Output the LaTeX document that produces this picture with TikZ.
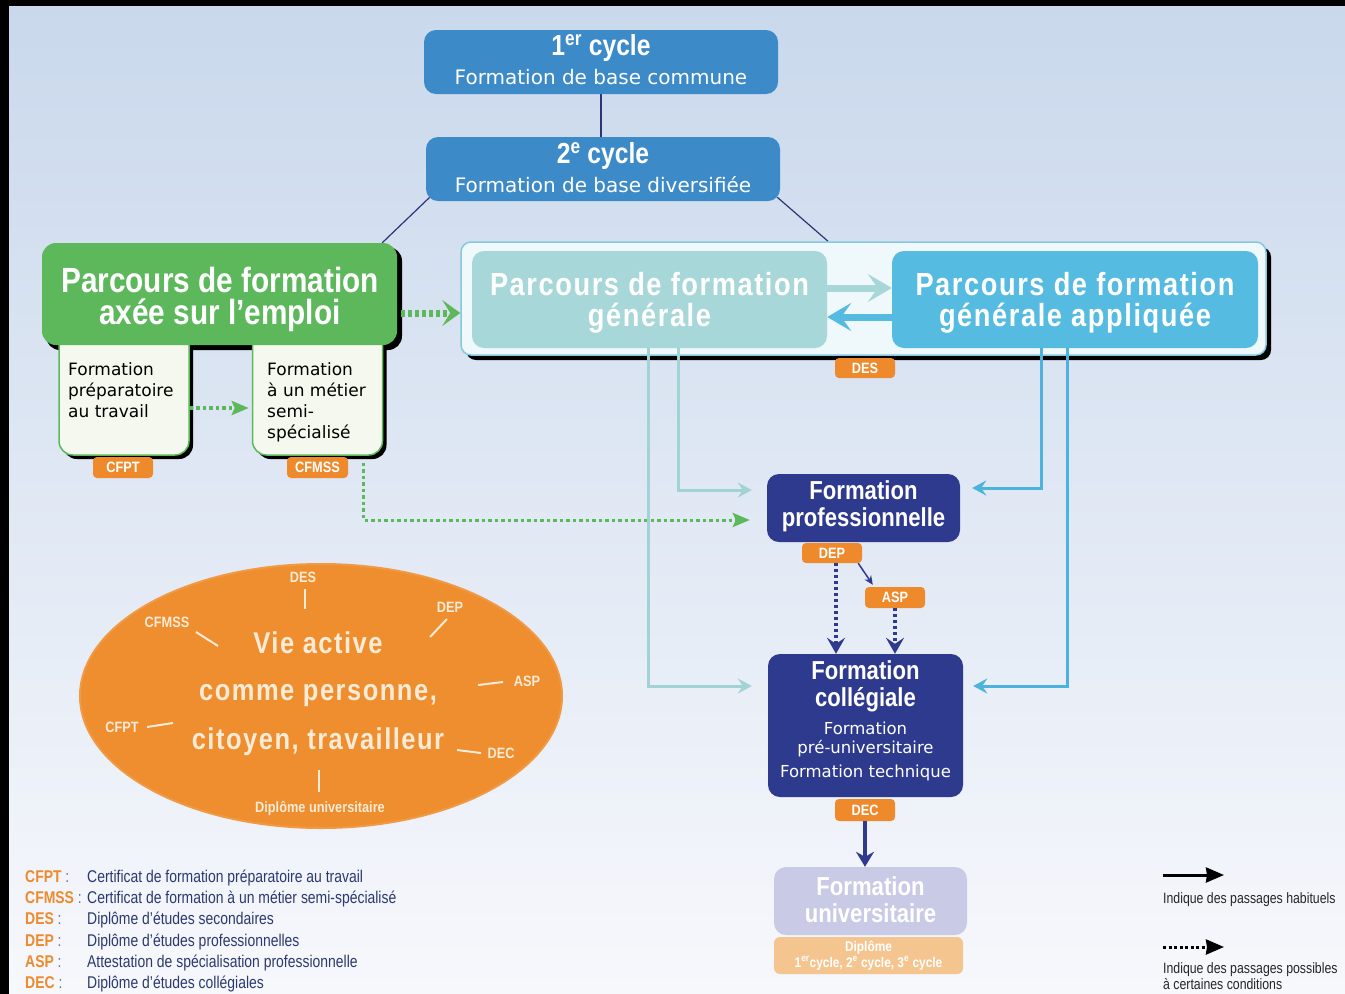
\documentclass[tikz,border=0pt]{standalone}
\usepackage{fontspec}
\setmainfont{DejaVu Sans}
\newfontfamily\cond[FakeStretch=0.85]{Liberation Sans}
\newfontfamily\condsp[FakeStretch=0.85,LetterSpace=5]{Liberation Sans}
\newfontfamily\legf[FakeStretch=0.82]{Liberation Sans}
\newfontfamily\dv{DejaVu Sans}
\usetikzlibrary{arrows.meta,shapes.geometric,backgrounds}
\newcommand\myfs[2]{\fontsize{#1pt}{#2pt}\selectfont}
\definecolor{bgtop}{HTML}{C9D8EC}
\definecolor{bgbot}{HTML}{F7F8FC}
\definecolor{cycblue}{HTML}{3D8AC8}
\definecolor{navyline}{HTML}{2D3578}
\definecolor{grn}{HTML}{5CB85B}
\definecolor{subfill}{HTML}{F5F8EE}
\definecolor{genc}{HTML}{A8D7D9}
\definecolor{genline}{HTML}{9FD3D6}
\definecolor{appc}{HTML}{55BBE0}
\definecolor{appline}{HTML}{4DB3DC}
\definecolor{panfill}{HTML}{EFF8FB}
\definecolor{panedge}{HTML}{86C8E0}
\definecolor{navy}{HTML}{2E3A8E}
\definecolor{orng}{HTML}{EE8A2C}
\definecolor{unic}{HTML}{C9CBE6}
\definecolor{diplc}{HTML}{F5C590}
\definecolor{cream}{HTML}{FCEBD6}
\definecolor{legtxt}{HTML}{2B3A6E}
\definecolor{colon}{HTML}{6A7090}
\definecolor{ellc}{HTML}{EE8E2E}
\definecolor{ellrim}{HTML}{F09A45}
\begin{document}
\begin{tikzpicture}[x=1pt,y=-1pt,
  cyc/.style={fill=cycblue, rounded corners=12pt, minimum width=354pt, minimum height=64pt, inner sep=0pt},
  cyct/.style={text=white, inner sep=0pt, anchor=base, font={\cond\bfseries\myfs{29}{31}}},
  cycs/.style={text=white, inner sep=0pt, anchor=base, font={\dv\myfs{20}{22}}},
  nline/.style={draw=navyline, line width=1.2pt},
  subbox/.style={fill=subfill, draw=grn, line width=1.5pt, rounded corners=14pt, minimum width=130pt, minimum height=135pt, inner sep=0pt, preaction={fill=black, transform canvas={xshift=4pt,yshift=-4pt}}},
  greenbox/.style={fill=grn, rounded corners=14pt, minimum width=355pt, minimum height=102pt, inner sep=0pt},
  greent/.style={text=white, inner sep=0pt, anchor=base, font={\cond\bfseries\myfs{35}{38}}},
  subt/.style={text=black, inner sep=0pt, anchor=base west, align=left, font={\dv\myfs{17}{21}}},
  tag/.style={fill=orng, rounded corners=4pt, minimum width=60pt, minimum height=21pt, inner sep=0pt, text=white, font={\cond\bfseries\myfs{15}{16}}},
  panel/.style={fill=panfill, draw=panedge, line width=1.5pt, rounded corners=10pt, minimum width=805pt, minimum height=113pt, inner sep=0pt, preaction={fill=black, transform canvas={xshift=5pt,yshift=-5pt}}},
  genbox/.style={fill=genc, rounded corners=12pt, minimum width=355pt, minimum height=97pt, inner sep=0pt},
  appbox/.style={fill=appc, rounded corners=12pt, minimum width=366pt, minimum height=97pt, inner sep=0pt},
  bigt/.style={text=white, inner sep=0pt, anchor=base, font={\condsp\bfseries\myfs{32}{34}}},
  navybox/.style={fill=navy, rounded corners=12pt, inner sep=0pt},
  navyt/.style={text=white, inner sep=0pt, anchor=base, font={\cond\bfseries\myfs{26}{28}}},
  colt/.style={text=white, inner sep=0pt, anchor=base, font={\dv\myfs{16.5}{18}}},
  unibox/.style={fill=unic, rounded corners=12pt, minimum width=193pt, minimum height=68pt, inner sep=0pt},
  diplbox/.style={fill=diplc, rounded corners=6pt, minimum width=189pt, minimum height=37pt, inner sep=0pt},
  diplt/.style={text=white, inner sep=0pt, anchor=base, font={\cond\bfseries\myfs{14}{15}}},
  ellt/.style={text=cream, inner sep=0pt, anchor=base, font={\condsp\bfseries\myfs{30}{32}}},
  elll/.style={text=cream, inner sep=0pt, anchor=base, font={\cond\bfseries\myfs{15}{16}}},
  tick/.style={draw=cream, line width=2pt},
  abbr/.style={text=orng, inner sep=0pt, anchor=base west, font={\legf\bfseries\myfs{17}{18}}},
  desc/.style={text=legtxt, inner sep=0pt, anchor=base west, font={\legf\myfs{17}{18}}},
  rleg/.style={text=black!85, inner sep=0pt, anchor=base west, align=left, font={\legf\myfs{15}{14}}},
  gdot/.style={draw=grn, line width=3.5pt, dash pattern=on 3.5pt off 3pt, -{Stealth[length=17pt,width=14pt,inset=3pt]}},
  gline/.style={draw=genline, line width=3pt, -{Stealth[length=14pt,width=15pt,inset=5pt]}},
  aline/.style={draw=appline, line width=3pt, -{Stealth[length=14pt,width=15pt,inset=5pt]}},
  ndot/.style={draw=navy, line width=4pt, dash pattern=on 3pt off 3pt, -{Stealth[length=16pt,width=18pt,inset=6pt]}},
]
\useasboundingbox (0,0) rectangle (1345,994);

% cycles
\node[cyc] (c1) at (601,62) {};
\node[cyct] (c1t) at (601,55) {1\textsuperscript{er} cycle};
\node[cycs] (c1s) at (601,84) {Formation de base commune};
\node[cyc] (c2) at (603,169) {};
\node[cyct] (c2t) at (603,163) {2\textsuperscript{e} cycle};
\node[cycs] (c2s) at (603,192) {Formation de base diversifiée};

% employment pathway
\fill[black, rounded corners=14pt] (46,247) rectangle (402,350);
\node[subbox] (sub1) at (124,387.5) {};
\node[subbox] (sub2) at (317.5,387.5) {};
\node[greenbox] (green) at (219.5,294) {};
\node[greent] (gt1) at (220,292) {Parcours de formation};
\node[greent] (gt2) at (220,324) {axée sur l’emploi};
\node[subt] (s1t) at (68,417) {Formation\\préparatoire\\au travail};
\node[subt] (s2t) at (267,438) {Formation\\à un métier\\semi-\\spécialisé};
\node[tag] (cfpt) at (123,467.5) {CFPT};
\node[tag, minimum width=61pt] (cfmss) at (317.5,467.5) {CFMSS};

% general pathways panel
\node[panel] (panel) at (863.5,298.5) {};
\node[genbox] (gen) at (649.5,299.5) {};
\node[appbox] (app) at (1075,299.5) {};
\node[bigt] (gen1) at (649.5,295) {Parcours de formation};
\node[bigt] (gen2) at (649.5,326) {générale};
\node[bigt] (app1) at (1075,295) {Parcours de formation};
\node[bigt] (app2) at (1075,326) {générale appliquée};
\node[tag, minimum height=20pt] (des) at (865,368) {DES};
\draw[draw=genc, line width=7pt, -{Stealth[length=24pt,width=28pt,inset=10pt]}] ([yshift=11.5pt]gen.east) -- ([yshift=11.5pt]app.west);
\draw[draw=appc, line width=7pt, -{Stealth[length=24pt,width=28pt,inset=10pt]}] ([yshift=-17.5pt]app.west) -- ([yshift=-17.5pt]gen.east);

% professional / college
\node[navybox, minimum width=193pt, minimum height=68pt] (prof) at (863.5,508) {};
\node[navyt] (pt1) at (863.5,499) {Formation};
\node[navyt] (pt2) at (863.5,526) {professionnelle};
\node[tag, minimum height=20pt] (dep) at (832,553) {DEP};
\node[tag] (asp) at (895,597.5) {ASP};
\node[navybox, minimum width=195pt, minimum height=143pt] (col) at (865.5,725.5) {};
\node[navyt] (ct1) at (865.5,679) {Formation};
\node[navyt] (ct2) at (865.5,706) {collégiale};
\node[colt] (ct3) at (865.5,734) {Formation};
\node[colt] (ct4) at (865.5,753) {pré-universitaire};
\node[colt] (ct5) at (865.5,777) {Formation technique};
\node[tag, minimum height=22pt] (dec) at (865,810) {DEC};

% university
\node[unibox] (univ) at (870.5,901) {};
\node[navyt] (ut1) at (870.5,895) {Formation};
\node[navyt] (ut2) at (870.5,922) {universitaire};
\node[diplbox] (dipl) at (868.5,955.5) {};
\node[diplt] (dt1) at (868.5,951) {Diplôme};
\node[diplt] (dt2) at (868.5,967) {1\textsuperscript{er}cycle, 2\textsuperscript{e} cycle, 3\textsuperscript{e} cycle};

% connectors
\draw[gdot, line width=7pt, dash pattern=on 4pt off 3pt, -{Stealth[length=18pt,width=26pt,inset=8pt]}] ([xshift=4pt,yshift=-19pt]green.east) -- ([yshift=-19pt]green.east -| panel.west);
\draw[gdot] ([yshift=-20.5pt]sub1.east) -- ([xshift=-3pt,yshift=-20.5pt]sub2.west);
\draw[gdot, line width=3pt] ([xshift=-20pt,yshift=-7pt]sub2.south east) |- ([xshift=-17pt,yshift=-12pt]prof.west);
\draw[gline] ([xshift=28.5pt]gen.south) |- ([xshift=-15pt,yshift=18pt]prof.west);
\draw[gline] ([xshift=-1.5pt]gen.south) |- ([xshift=-16pt,yshift=39.5pt]col.west);
\draw[aline] ([xshift=-34pt]app.south) |- ([xshift=12pt,yshift=20pt]prof.east);
\draw[aline] ([xshift=-8pt]app.south) |- ([xshift=10pt,yshift=39.5pt]col.east);
\draw[draw=navy, line width=1.5pt, -{Stealth[length=9pt,width=8pt]}] ([xshift=-4pt]dep.south east) -- ([xshift=8pt,yshift=2pt]asp.north west);
\draw[ndot] ([xshift=4pt]dep.south) -- ([xshift=4pt]dep.south |- col.north);
\draw[ndot] (asp.south) -- (asp.south |- col.north);
\draw[draw=navy, line width=3.5pt, -{Stealth[length=15pt,width=18pt,inset=5pt]}] (dec.south) -- (dec.south |- univ.north);

% ellipse
\node[ellipse, fill=ellc, draw=ellrim, line width=2pt, minimum width=482pt, minimum height=264pt, inner sep=0pt] (vie) at (321,696) {};
\node[ellt] (v1) at (318,653) {Vie active};
\node[ellt] (v2) at (318,700) {comme personne,};
\node[ellt] (v3) at (318,749) {citoyen, travailleur};
\node[elll] (eDES) at (303,582) {DES};
\draw[tick] (305,589) -- (305,609);
\node[elll] (eDEP) at (450,612) {DEP};
\draw[tick] (447,619) -- (430,637);
\node[elll] (eCFMSS) at (167,627) {CFMSS};
\draw[tick] (196,632) -- (218,646);
\node[elll] (eASP) at (527,686) {ASP};
\draw[tick] (503,682) -- (478,685);
\node[elll] (eCFPT) at (122,732) {CFPT};
\draw[tick] (147,727) -- (173,723);
\node[elll] (eDEC) at (501,758) {DEC};
\draw[tick] (457,750) -- (481,753);
\node[elll] (eDU) at (320,812) {Diplôme universitaire};
\draw[tick] (319,770) -- (319,792);

% legend left
\foreach \ab/\de/\yy [count=\i] in {CFPT/Certificat de formation préparatoire au travail/882,
  CFMSS/Certificat de formation à un métier semi-spécialisé/903,
  DES/Diplôme d’études secondaires/924,
  DEP/Diplôme d’études professionnelles/946,
  ASP/Attestation de spécialisation professionnelle/967,
  DEC/Diplôme d’études collégiales/988}{
  \node[abbr] (la\i) at (25,\yy) {\ab~{\color{colon}\mdseries:}};
  \node[desc] (ld\i) at (87,\yy) {\de};
}

% legend right
\coordinate (l1a) at (1163,875);
\coordinate (l1b) at (1224,875);
\draw[black, line width=3pt, -{Stealth[length=18pt,width=15pt,inset=1pt]}] (l1a) -- (l1b);
\node[rleg] (lt1) at (1163,903) {Indique des passages habituels};
\coordinate (l2a) at (1163,947);
\coordinate (l2b) at (1224,947);
\draw[black, line width=3pt, dash pattern=on 3pt off 2.5pt, -{Stealth[length=18pt,width=15pt,inset=1pt]}] (l2a) -- (l2b);
\node[rleg] (lt2) at (1163,989) {Indique des passages possibles\\à certaines conditions};

% background
\begin{pgfonlayer}{background}
\shade[top color=bgtop, bottom color=bgbot] (0,0) rectangle (1345,994);
\fill[black] (0,0) rectangle (1345,6);
\fill[black] (0,0) rectangle (9,994);
\draw[nline] (c1.south) -- (c1.south |- c2.north);
\draw[nline] ([xshift=4pt,yshift=4pt]c2.south west) -- ([xshift=-15pt]green.north east);
\draw[nline] ([xshift=-3pt,yshift=4pt]c2.south east) -- ([xshift=-35.5pt]panel.north);
\end{pgfonlayer}
\end{tikzpicture}
\end{document}
